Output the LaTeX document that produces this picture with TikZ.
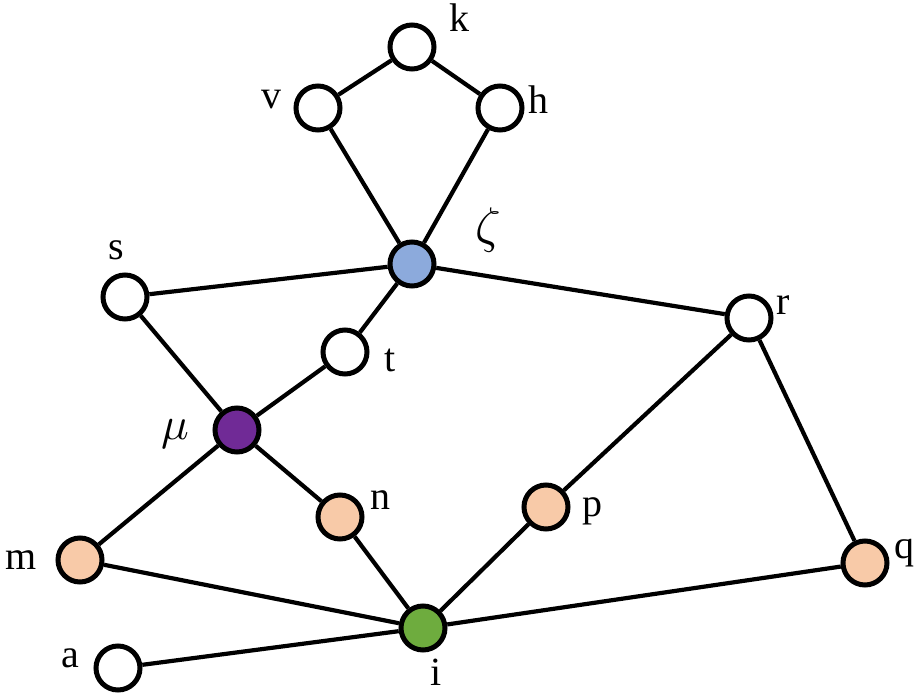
\documentclass[tikz,border=0pt]{standalone}
\usepackage{fontspec}
\usepackage{graphicx}
\setmainfont{Liberation Serif}
\begin{document}
\begin{tikzpicture}[x=1pt,y=-1pt,
  vtx/.style={circle,draw=black,line width=5pt,minimum size=44pt,inner sep=0pt,fill=white},
  blu/.style={vtx,fill={rgb,255:red,140;green,170;blue,220}},
  pur/.style={vtx,fill={rgb,255:red,112;green,42;blue,150}},
  grn/.style={vtx,fill={rgb,255:red,110;green,172;blue,62}},
  pch/.style={vtx,fill={rgb,255:red,248;green,202;blue,168}},
  lbl/.style={font=\fontsize{40}{40}\selectfont,inner sep=0pt},
  edge/.style={line width=4.2pt}]
\useasboundingbox (0,0) rectangle (922,696);
\node[vtx] (k) at (412,47) {};
\node[vtx] (v) at (318,108) {};
\node[vtx] (h) at (500,108) {};
\node[blu] (z) at (412,264) {};
\node[vtx] (s) at (125,297) {};
\node[vtx] (r) at (749,318) {};
\node[vtx] (t) at (345,352) {};
\node[pur] (mu) at (237,430) {};
\node[pch] (n) at (340,517) {};
\node[pch] (p) at (546,507) {};
\node[pch] (m) at (80,560) {};
\node[pch] (q) at (865,563) {};
\node[grn] (i) at (423,628) {};
\node[vtx] (a) at (118,668) {};
\draw[edge] (k) -- (v);
\draw[edge] (k) -- (h);
\draw[edge] (v) -- (z);
\draw[edge] (h) -- (z);
\draw[edge] (z) -- (s);
\draw[edge] (z) -- (r);
\draw[edge] (z) -- (t);
\draw[edge] (s) -- (mu);
\draw[edge] (t) -- (mu);
\draw[edge] (mu) -- (m);
\draw[edge] (mu) -- (n);
\draw[edge] (n) -- (i);
\draw[edge] (p) -- (i);
\draw[edge] (p) -- (r);
\draw[edge] (r) -- (q);
\draw[edge] (q) -- (i);
\draw[edge] (m) -- (i);
\draw[edge] (a) -- (i);
\node[lbl] (lk) at (459,18) {k};
\node[lbl] (lv) at (271,100) {v};
\node[lbl] (lh) at (538,100) {h};
\node[inner sep=0pt] (lz) at (488,230) {\scalebox{5}{$\zeta$}};
\node[lbl] (ls) at (116,250) {s};
\node[lbl] (lr) at (783,305) {r};
\node[lbl] (lt) at (390,360) {t};
\node[inner sep=0pt] (lmu) at (175,434) {\scalebox{4.6}{$\mu$}};
\node[lbl] (ln) at (380,500) {n};
\node[lbl] (lp) at (592,511) {p};
\node[lbl] (lm) at (21,560) {m};
\node[lbl] (lq) at (904,553) {q};
\node[lbl] (li) at (436,672) {i};
\node[lbl] (la) at (70,658) {a};
\end{tikzpicture}
\end{document}
